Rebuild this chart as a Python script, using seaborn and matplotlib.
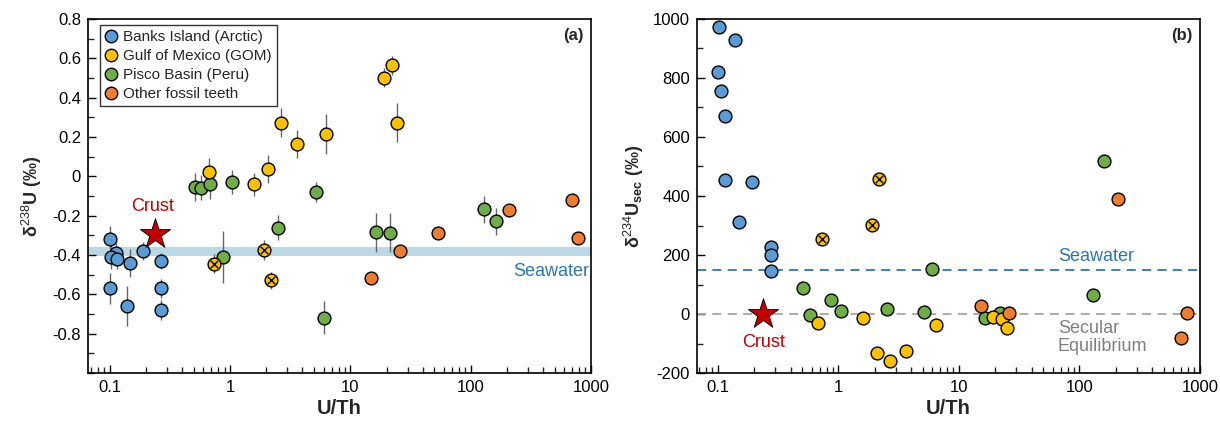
import numpy as np
import pandas as pd
import matplotlib
matplotlib.use("Agg")
import matplotlib.pyplot as plt
import seaborn as sns
from matplotlib.ticker import FixedLocator, MultipleLocator, LogLocator, NullFormatter, FuncFormatter
from matplotlib.lines import Line2D

# ---------------- data: panel (a) d238U ----------------
banks_x_a = [0.100, 0.112, 0.102, 0.114, 0.147, 0.190, 0.268, 0.100, 0.138, 0.268, 0.268]
banks_y_a = [-0.32, -0.39, -0.41, -0.42, -0.44, -0.38, -0.43, -0.57, -0.66, -0.57, -0.68]
banks_e_a = [0.07, 0.05, 0.06, 0.05, 0.07, 0.045, 0.04, 0.08, 0.10, 0.05, 0.05]

gom_x_a = [0.668, 1.585, 2.05, 2.63, 3.62, 6.31, 18.96, 22.4, 24.6]
gom_y_a = [0.024, -0.041, 0.036, 0.273, 0.164, 0.215, 0.502, 0.564, 0.273]
gom_e_a = [0.07, 0.06, 0.07, 0.075, 0.07, 0.10, 0.05, 0.05, 0.10]

gomx_x_a = [0.74, 1.92, 2.18]
gomx_y_a = [-0.444, -0.373, -0.529]
gomx_e_a = [0.05, 0.05, 0.045]

pisco_x_a = [0.511, 0.57, 0.681, 1.03, 5.14, 0.869, 2.51, 6.0, 16.4, 21.5, 129, 161.6]
pisco_y_a = [-0.054, -0.057, -0.041, -0.030, -0.078, -0.41, -0.261, -0.718, -0.285, -0.286, -0.168, -0.229]
pisco_e_a = [0.07, 0.065, 0.075, 0.06, 0.05, 0.13, 0.065, 0.085, 0.10, 0.10, 0.07, 0.07]

other_x_a = [14.96, 25.8, 53.8, 208, 695, 783]
other_y_a = [-0.517, -0.381, -0.288, -0.169, -0.120, -0.314]

crust_a = (0.240, -0.295)
seawater_band_a = (-0.405, -0.360)

# ---------------- data: panel (b) d234Usec ----------------
banks_x_b = [0.1025, 0.139, 0.1006, 0.1065, 0.114, 0.115, 0.193, 0.1495, 0.273, 0.273, 0.273]
banks_y_b = [974, 930, 819, 757, 670, 453, 447, 312, 228, 199, 146]

gom_x_b = [0.678, 1.61, 2.07, 2.69, 3.62, 6.4, 19.2, 22.6, 24.9]
gom_y_b = [-29, -12, -133, -160, -124, -37, -9, -18, -47]

gomx_x_b = [0.736, 1.89, 2.18]
gomx_y_b = [255, 302, 458]

pisco_x_b = [0.512, 0.577, 0.875, 1.04, 2.51, 5.16, 6.0, 16.4, 21.9, 130, 160]
pisco_y_b = [89, -4, 46, 9, 17, 6, 152, -14, 3, 64, 520]

other_x_b = [15.2, 25.8, 210, 781, 692]
other_y_b = [28, 2, 390, 3, -82]

crust_b = (0.238, 0.0)
seawater_b = 150
secular_b = 0

labels = ["Banks Island (Arctic)", "Gulf of Mexico (GOM)", "Pisco Basin (Peru)", "Other fossil teeth"]
colors = ["#5b9bd5", "#ffc000", "#70ad47", "#ed7d31"]

# ---------------- style ----------------
sns.set_style("ticks")
plt.rcParams["font.family"] = ["Liberation Sans", "DejaVu Sans"]
plt.rcParams["mathtext.fontset"] = "custom"
plt.rcParams["mathtext.rm"] = "Liberation Sans"
plt.rcParams["mathtext.it"] = "Liberation Sans:italic"
plt.rcParams["mathtext.bf"] = "Liberation Sans:bold"
plt.rcParams["axes.unicode_minus"] = False

fig = plt.figure(figsize=(12.2, 4.29), dpi=100)
axA = fig.add_axes([88/1220, 1-373/429, 503/1220, 354/429])
axB = fig.add_axes([697/1220, 1-373/429, 503/1220, 354/429])

S = 85
EC = "black"
ELW = 1.0
errc = "#666666"


def df(x, y, e=None):
    d = pd.DataFrame({"x": x, "y": y})
    if e is not None:
        d["e"] = e
    return d


def scat(ax, d, color, z=3):
    sns.scatterplot(data=d, x="x", y="y", ax=ax, s=S, color=color, edgecolor=EC,
                    linewidth=ELW, zorder=z, legend=False)


def errs(ax, d):
    ax.errorbar(d["x"], d["y"], yerr=d["e"], fmt="none", ecolor=errc, elinewidth=1.0,
                capsize=0, zorder=2)


def crossed(ax, d):
    scat(ax, d, colors[1], z=3)
    sns.scatterplot(data=d, x="x", y="y", ax=ax, s=30, marker="x", color="black",
                    linewidth=1.0, zorder=4, legend=False)

# ---- panel (a)
dA_b = df(banks_x_a, banks_y_a, banks_e_a)
dA_g = df(gom_x_a, gom_y_a, gom_e_a)
dA_gx = df(gomx_x_a, gomx_y_a, gomx_e_a)
dA_p = df(pisco_x_a, pisco_y_a, pisco_e_a)
dA_o = df(other_x_a, other_y_a)

axA.axhspan(seawater_band_a[0], seawater_band_a[1], color="#bcd8e5", zorder=0, lw=0)
for d in (dA_b, dA_g, dA_gx, dA_p):
    errs(axA, d)
scat(axA, dA_b, colors[0])
scat(axA, dA_p, colors[2])
scat(axA, dA_g, colors[1])
crossed(axA, dA_gx)
scat(axA, dA_o, colors[3])
sns.scatterplot(x=[crust_a[0]], y=[crust_a[1]], ax=axA, marker="*", s=520, color="#c00000",
                edgecolor="black", linewidth=0.6, zorder=5, legend=False)
axA.text(crust_a[0] * 0.95, crust_a[1] + 0.14, "Crust", color="#c00000", fontsize=13,
         ha="center", va="center")
axA.text(960, -0.485, "Seawater", color="#2e75b6", fontsize=13, ha="right", va="center")
axA.text(0.985, 0.975, "(a)", transform=axA.transAxes, ha="right", va="top",
         fontsize=12, fontweight="bold")

axA.set_xscale("log")
axA.set_xlim(0.066, 1000)
axA.set_ylim(-1.0, 0.8)
axA.yaxis.set_major_locator(FixedLocator(np.round(np.arange(-0.8, 0.81, 0.2), 1)))
axA.yaxis.set_minor_locator(MultipleLocator(0.1))
axA.yaxis.set_major_formatter(FuncFormatter(lambda v, p: f"{v:g}" if abs(v) > 1e-9 else "0"))
axA.set_ylabel(r"δ$^{238}$U (‰)", fontsize=13, fontweight="bold", labelpad=6)

handles = [Line2D([0], [0], marker="o", ls="none", markerfacecolor=c, markeredgecolor="black",
                  markersize=9, markeredgewidth=1.0) for c in colors]
leg = axA.legend(handles, labels, loc="upper left", bbox_to_anchor=(0.024, 0.983),
                 fontsize=11, frameon=True, fancybox=False, edgecolor="black",
                 handlelength=0.7, handletextpad=0.45, labelspacing=0.32, borderpad=0.35,
                 borderaxespad=0.0)
leg.get_frame().set_linewidth(1.0)

# ---- panel (b)
dB_b = df(banks_x_b, banks_y_b)
dB_g = df(gom_x_b, gom_y_b)
dB_gx = df(gomx_x_b, gomx_y_b)
dB_p = df(pisco_x_b, pisco_y_b)
dB_o = df(other_x_b, other_y_b)

axB.axhline(seawater_b, color="#2e75b6", ls=(0, (5, 3.5)), lw=1.3, zorder=1)
axB.axhline(secular_b, color="#a6a6a6", ls=(0, (5, 3.5)), lw=1.3, zorder=1)
scat(axB, dB_b, colors[0])
scat(axB, dB_p, colors[2])
scat(axB, dB_g, colors[1])
crossed(axB, dB_gx)
scat(axB, dB_o, colors[3])
sns.scatterplot(x=[crust_b[0]], y=[crust_b[1]], ax=axB, marker="*", s=520, color="#c00000",
                edgecolor="black", linewidth=0.6, zorder=5, legend=False)
axB.text(crust_b[0], crust_b[1] - 97, "Crust", color="#c00000", fontsize=13,
         ha="center", va="center")
axB.text(66, 196, "Seawater", color="#2e75b6", fontsize=13, ha="left", va="center")
axB.text(66, -80, "Secular\nEquilibrium", color="#808080", fontsize=13, ha="left",
         va="center", linespacing=1.1)
axB.text(0.985, 0.975, "(b)", transform=axB.transAxes, ha="right", va="top",
         fontsize=12, fontweight="bold")

axB.set_xscale("log")
axB.set_xlim(0.067, 1000)
axB.set_ylim(-200, 1000)
axB.yaxis.set_major_locator(MultipleLocator(200))
axB.yaxis.set_minor_locator(MultipleLocator(100))
axB.yaxis.set_major_formatter(FuncFormatter(lambda v, p: f"{v:g}"))
axB.set_ylabel(r"δ$^{234}$U$_{\mathbf{sec}}$ (‰)", fontsize=13, fontweight="bold", labelpad=5)

for ax in (axA, axB):
    ax.set_xlabel("U/Th", fontsize=14.5, fontweight="bold", labelpad=3)
    ax.xaxis.set_major_locator(FixedLocator([0.1, 1, 10, 100, 1000]))
    ax.xaxis.set_major_formatter(FuncFormatter(lambda v, p: f"{v:g}"))
    ax.xaxis.set_minor_locator(LogLocator(base=10, subs=np.arange(2, 10), numticks=20))
    ax.xaxis.set_minor_formatter(NullFormatter())
    ax.tick_params(which="major", direction="in", length=6, width=1.0, labelsize=12,
                   colors="black", pad=5)
    ax.tick_params(which="minor", direction="in", length=4, width=1.0)
    for sp in ax.spines.values():
        sp.set_visible(True)
        sp.set_linewidth(1.2)
        sp.set_color("black")

fig.savefig("out.png", dpi=100)
